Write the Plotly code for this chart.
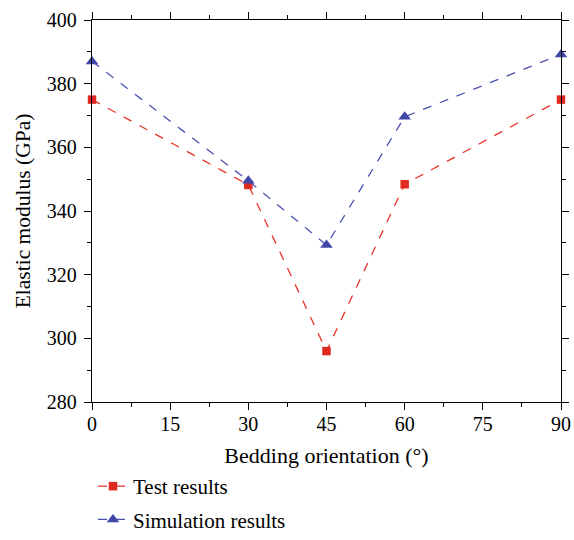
import plotly.graph_objects as go

angles = [0, 30, 45, 60, 90]
test_results = [375, 348.2, 296, 348.4, 375]
simulation_results = [387, 349.5, 329.3, 369.6, 389.2]

font_family = "Liberation Serif, Times New Roman, serif"
W, H = 574, 540
# plot area in pixels
PL, PR, PT, PB = 92, 561, 20, 402

fig = go.Figure()
fig.add_trace(go.Scatter(
    x=angles, y=test_results, name="Test results", mode="lines+markers",
    line=dict(color="#e8332a", width=1.3, dash="dash"),
    marker=dict(symbol="square", size=8.5, color="#e02a1f"),
    cliponaxis=False, legendgroup="a",
))
fig.add_trace(go.Scatter(
    x=angles, y=simulation_results, name="Simulation results", mode="lines+markers",
    line=dict(color="#4a52b0", width=1.3, dash="dash"),
    marker=dict(symbol="triangle-up", size=11, color="#3f48a8"),
    cliponaxis=False, legendgroup="b",
))

axis_common = dict(
    showline=True, linecolor="black", linewidth=1.3, mirror="ticks",
    ticks="outside", ticklen=7, tickwidth=1.3, tickcolor="black",
    showgrid=False, zeroline=False, automargin=False,
    tickfont=dict(family=font_family, size=20, color="black"),
)

fig.update_layout(
    width=W, height=H,
    margin=dict(l=0, r=0, t=0, b=0),
    paper_bgcolor="white", plot_bgcolor="white",
    font=dict(family=font_family, size=20, color="black"),
    xaxis=dict(
        domain=[PL / W, PR / W],
        range=[0, 90], tickvals=[0, 15, 30, 45, 60, 75, 90],
        minor=dict(ticks="outside", ticklen=4, tickwidth=1.3, tickcolor="black", dtick=7.5),
        ticklabelstandoff=-3,
        title=dict(text="Bedding orientation (°)", font=dict(family=font_family, size=22), standoff=13),
        **axis_common,
    ),
    yaxis=dict(
        domain=[(H - PB) / H, (H - PT) / H],
        range=[280, 400], tickvals=[280, 300, 320, 340, 360, 380, 400],
        minor=dict(ticks="outside", ticklen=4, tickwidth=1.3, tickcolor="black", dtick=10),
        ticklabelstandoff=3,
        title=dict(text="Elastic modulus (GPa)", font=dict(family=font_family, size=21.5), standoff=10),
        **axis_common,
    ),
    legend=dict(
        x=0.162, y=0, xanchor="left", yanchor="bottom",
        font=dict(family=font_family, size=21, color="black"),
        tracegroupgap=3, bgcolor="rgba(0,0,0,0)",
    ),
    showlegend=True,
)

fig.write_html("out.html")
